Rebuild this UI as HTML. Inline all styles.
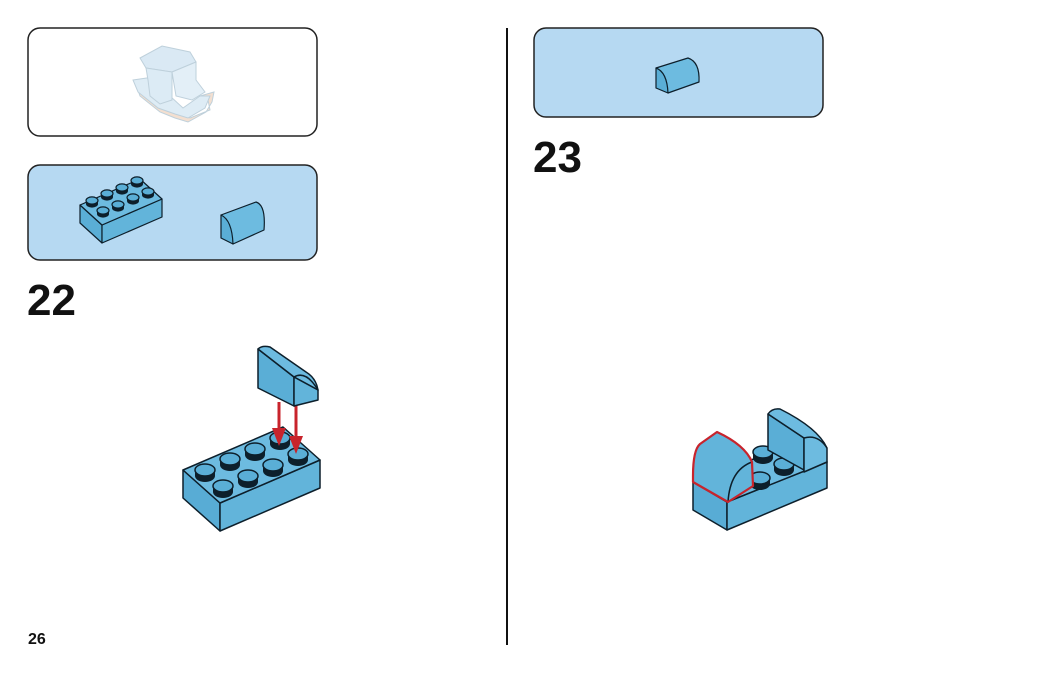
<!DOCTYPE html>
<html><head><meta charset="utf-8"><style>
html,body{margin:0;padding:0;background:#fff;}
body{width:1050px;height:673px;position:relative;overflow:hidden;font-family:"Liberation Sans",sans-serif;}
.num{position:absolute;font-weight:bold;color:#111;}
</style></head><body>
<svg width="1050" height="673" viewBox="0 0 1050 673" style="position:absolute;left:0;top:0">
<defs>
<g id="stud">
<ellipse cx="0" cy="0" rx="10" ry="6" fill="#0d1f2b"/>
<rect x="-10" y="-6" width="20" height="6" fill="#0d1f2b"/>
<ellipse cx="0" cy="-6" rx="10" ry="6" fill="#5aaed6" stroke="#0d1f2b" stroke-width="1.5"/>
</g>
<g id="studs">
<ellipse cx="0" cy="0" rx="6" ry="3.6" fill="#0d1f2b"/>
<rect x="-6" y="-3.5" width="12" height="3.5" fill="#0d1f2b"/>
<ellipse cx="0" cy="-3.5" rx="6" ry="3.6" fill="#5aaed6" stroke="#0d1f2b" stroke-width="1.2"/>
</g>
</defs>
<!-- boxes -->
<rect x="28" y="28" width="289" height="108" rx="12" fill="#fff" stroke="#222" stroke-width="1.5"/>
<rect x="28" y="165" width="289" height="95" rx="12" fill="#b6d9f2" stroke="#222" stroke-width="1.5"/>
<rect x="534" y="28" width="289" height="89" rx="12" fill="#b6d9f2" stroke="#222" stroke-width="1.5"/>
<line x1="507" y1="28" x2="507" y2="645" stroke="#111" stroke-width="2"/>

<!-- faded model -->
<g stroke="#b8ccd8" stroke-width="1" opacity="0.9">
<polygon points="135,82 165,78 170,100 185,112 190,118 210,110 208,100 200,96 214,92 212,102 206,112 188,122 175,118 160,112 150,104 140,96" fill="#f2dccb"/>
<polygon points="133,80 160,76 170,96 183,108 200,96 210,96 205,108 188,118 175,114 158,108 148,100 138,92" fill="#dbeaf4"/>
<polygon points="140,58 162,46 190,52 196,62 172,72 146,68" fill="#d6e7f3"/>
<polygon points="146,68 172,72 172,100 160,104 150,96 148,80" fill="#d9e9f5"/>
<polygon points="172,72 196,62 196,80 205,92 192,100 176,96" fill="#e1eef7"/>
</g>

<!-- box2 small 2x4 brick -->
<g stroke="#0d1f2b" stroke-width="1.2" stroke-linejoin="round">
<polygon points="80,205 102,225 102,243 80,223" fill="#5aaed6"/>
<polygon points="102,225 162,199 162,217 102,243" fill="#62b4da"/>
<polygon points="80,205 140,179 162,199 102,225" fill="#6dbbe0"/>
</g>
<use href="#studs" x="92" y="204"/><use href="#studs" x="107" y="197"/><use href="#studs" x="122" y="191"/><use href="#studs" x="137" y="184"/>
<use href="#studs" x="103" y="214"/><use href="#studs" x="118" y="208"/><use href="#studs" x="133" y="201"/><use href="#studs" x="148" y="195"/>
<!-- box2 small slope -->
<g stroke="#0d1f2b" stroke-width="1.2" stroke-linejoin="round">
<path d="M221,215 L256,202 Q266,205 264,230 L233,244 Z" fill="#6dbbe0"/>
<path d="M221,215 Q232,220 233,244 L233,244 L221,238 Z" fill="#5aaed6"/>
</g>
<!-- right box slope -->
<g stroke="#0d1f2b" stroke-width="1.2" stroke-linejoin="round">
<path d="M656,68 L688,58 Q700,62 699,82 L668,93 Z" fill="#6dbbe0"/>
<path d="M656,68 Q667,72 668,93 L656,88 Z" fill="#5aaed6"/>
</g>

<!-- step 22 main brick -->
<g stroke="#0d1f2b" stroke-width="1.5" stroke-linejoin="round">
<polygon points="183,470 220,503 220,531 183,498" fill="#58acd5"/>
<polygon points="220,503 320,460 320,488 220,531" fill="#62b4da"/>
<polygon points="183,470 283,427 320,460 220,503" fill="#6dbbe0"/>
</g>
<use href="#stud" x="205" y="476"/><use href="#stud" x="230" y="465"/><use href="#stud" x="255" y="455"/><use href="#stud" x="280" y="444"/>
<use href="#stud" x="223" y="492"/><use href="#stud" x="248" y="482"/><use href="#stud" x="273" y="471"/><use href="#stud" x="298" y="460"/>
<!-- arrows -->
<g stroke="#c8242c" stroke-width="3">
<line x1="279" y1="402" x2="279" y2="432"/><line x1="296" y1="404" x2="296" y2="440"/>
</g>
<polygon points="272,428 286,428 279,446" fill="#c8242c"/>
<polygon points="289,436 303,436 296,454" fill="#c8242c"/>
<!-- slope piece -->
<g stroke="#0d1f2b" stroke-width="1.5" stroke-linejoin="round">
<polygon points="258,349 294,377 294,406 258,388" fill="#5aaed6"/>
<path d="M258,349 Q262,345 270,347 L306,372 Q316,378 318,390 L294,377 Z" fill="#6dbbe0"/>
<path d="M294,377 L318,390 L318,400 L294,406 Z" fill="#62b4da"/>
<path d="M294,377 Q306,370 318,390" fill="none"/>
</g>

<!-- step 23 assembly -->
<g stroke="#0d1f2b" stroke-width="1.5" stroke-linejoin="round">
<polygon points="693,482 727,502 727,530 693,510" fill="#58acd5"/>
<polygon points="727,502 827,462 827,488 727,530" fill="#62b4da"/>
<polygon points="693,482 793,444 827,462 727,502" fill="#6dbbe0"/>
</g>
<use href="#stud" x="763" y="458"/><use href="#stud" x="784" y="470"/><use href="#stud" x="760" y="484"/>
<!-- back upright slope -->
<g stroke="#0d1f2b" stroke-width="1.5" stroke-linejoin="round">
<polygon points="768,414 804,438 804,470 768,450" fill="#5aaed6"/>
<path d="M768,414 Q772,408 780,409 Q818,428 827,448 L827,462 L804,472 L804,438 Z" fill="#6dbbe0"/>
<path d="M804,438 Q818,434 827,448" fill="none"/>
</g>
<!-- red-outlined slope -->
<g stroke-linejoin="round">
<path d="M693,476 Q693,450 700,444 L717,432 Q745,445 752,462 L753,486 L728,502 L693,482 Z" fill="#62b4da" stroke="#0d1f2b" stroke-width="1.5"/>
<path d="M728,502 Q730,470 752,462" fill="none" stroke="#0d1f2b" stroke-width="1.5"/>
<path d="M693,476 Q693,450 700,444 L717,432 Q745,445 752,462 L753,486 L728,502 L693,482 Z" fill="none" stroke="#c8242c" stroke-width="2.2"/>
</g>
</svg>
<div class="num" style="left:27px;top:276px;font-size:44px;">22</div>
<div class="num" style="left:533px;top:133px;font-size:44px;">23</div>
<div class="num" style="left:28px;top:631px;font-size:16px;">26</div>
</body></html>
